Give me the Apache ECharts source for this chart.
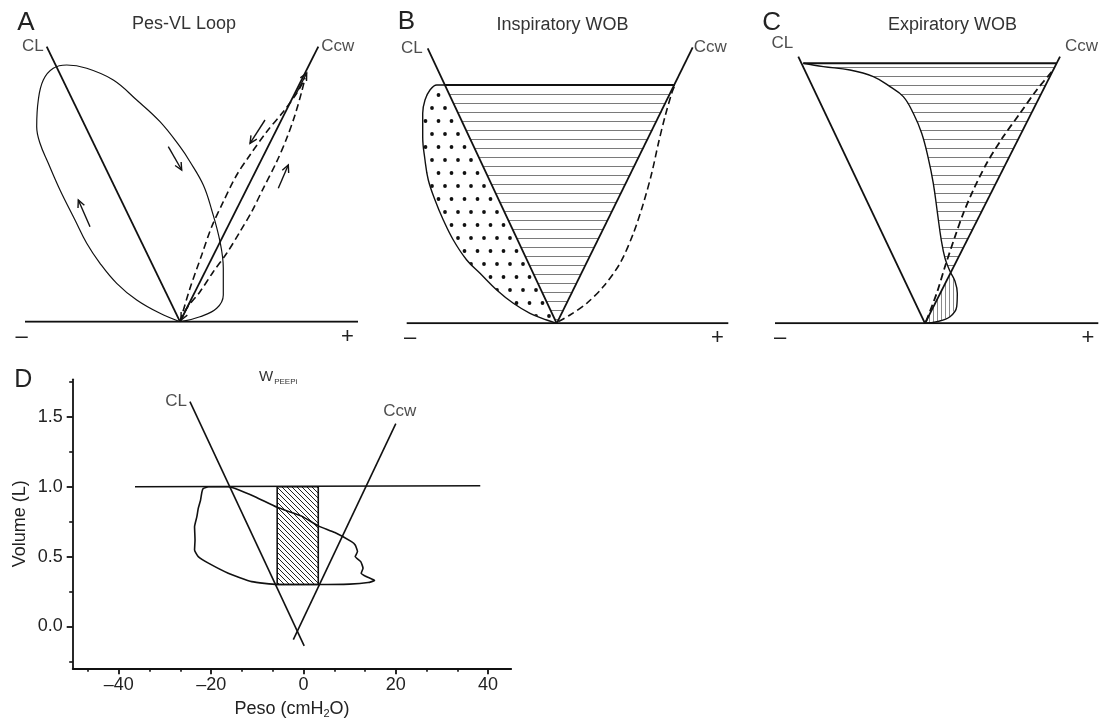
<!DOCTYPE html>
<html>
<head>
<meta charset="utf-8">
<script src="https://cdn.jsdelivr.net/npm/echarts@6/dist/echarts.min.js"></script>
<style>
  html, body { margin: 0; background: #fff; }
  #main { width: 1108px; height: 723px; }
</style>
</head>
<body>
<div id="main"></div>
<script>
// Panels A-C are schematic: x = pressure offset from the origin, y = volume above baseline (arbitrary units)

// --- A: Pes-VL loop
const aBase = [[-155, 0], [178, 0]];
const aCL = [[0, 0], [-133.3, 275]];
const aCcw = [[0, 0], [138.3, 275]];
const aLoop = [[0, 0], [20, 5], [36.7, 13.4], [43.3, 26.7], [43.3, 53.4], [40, 80], [31.7, 111.7],
  [23.3, 136.7], [10, 160], [0, 175], [-20, 200], [-43.3, 221.7], [-66.7, 241.7], [-93.3, 253.4],
  [-113.3, 256.7], [-126.7, 253.4], [-136.7, 241.7], [-141.7, 221.7], [-143.3, 195], [-140, 178.4],
  [-131.7, 158.4], [-120, 131.7], [-105, 101.7], [-93.3, 78.4], [-80, 58.4], [-63.3, 38.4],
  [-43.3, 21.7], [-20, 8.4], [0, 0]];
const aDashIn = [[0, 0], [10, 33.4], [21.7, 66.7], [31.7, 95], [43.3, 120], [56.7, 146.7], [70, 166.7],
  [86.7, 190], [103.3, 210], [116.7, 228.4], [125, 243.4]];
const aDashOut = [[0, 0], [6.7, 13.4], [20, 30], [33.3, 50], [46.7, 68.4], [60, 90], [71.7, 110],
  [83.3, 133.4], [96.7, 160], [106.7, 183.4], [115, 206.7], [121.7, 230], [125, 243.4]];
// arrows: [tailX, tailY, tipX, tipY]
const aArrows = [[85, 201.7, 70, 178.4], [98.3, 133.4, 108.3, 156.7], [-11.7, 175, 1.7, 151.7],
  [-90, 95, -101.7, 121.7], [116, 227.7, 126.7, 248.7], [10, 19.7, 1, 1.7]];
const aSigns = [-158.5, 167.5];

// --- B: inspiratory WOB
const bBase = [[-150, 0], [171.6, 0]];
const bCL = [[0, 0], [-129, 275]];
const bCcw = [[0, 0], [136, 276]];
const bTop = [[-111.7, 238.3], [118.3, 238.3]];
const bLoop = [[-111.7, 238.3], [-120, 238.3], [-126.7, 233.3], [-131.7, 223.3], [-134, 210],
  [-134, 186.6], [-131.7, 163.3], [-128.4, 143.3], [-121.7, 123.3], [-113.4, 103.3], [-103.4, 83.3],
  [-90, 63.3], [-76.7, 50], [-60, 33.3], [-43.4, 20], [-26.7, 10], [-10, 3.3], [0, 0]];
const bDash = [[1.7, 1.7], [13.3, 8.3], [30, 20], [46.7, 36.7], [63.3, 60], [76.7, 90], [86.7, 120],
  [95, 150], [101.7, 180], [108.3, 206.7], [115, 230], [118.3, 238.3]];
const bSigns = [-146.7, 160.8];

// --- C: expiratory WOB
const cBase = [[-150, 0], [173.3, 0]];
const cCL = [[0, 0], [-126.7, 266.7]];
const cCcw = [[0, 0], [135, 266.7]];
const cTop = [[-121.7, 260], [131.6, 260]];
const cCurve = [[-121.7, 260], [-101.7, 256.7], [-75, 253.3], [-51.7, 246.7], [-35, 236.7],
  [-21.7, 226.7], [-11.7, 210], [-3.3, 190], [3.3, 165], [8.3, 140], [12.5, 110], [16, 85], [20, 65],
  [25, 52], [30, 42], [32.3, 30], [31.7, 16.6], [25, 6.6], [11.7, 1.6], [0, 0]];
const cCross = [25.6, 50.6];
const cDash = [[1, 1.7], [11.7, 30], [20, 56.7], [30, 86.7], [38.3, 110], [48.3, 133.3], [61.7, 160],
  [78.3, 186.7], [95, 210], [111.7, 233.3], [128.3, 253.3]];
const cSigns = [-145, 163];

// --- D: W_PEEPi, Peso (cmH2O) vs Volume (L)
const dXTicks = [-40, -20, 0, 20, 40];
const dXMinor = [-46.67, -33.33, -26.67, -13.33, -6.67, 6.67, 13.33, 26.67, 33.33];
const dYTicks = [0, 0.5, 1.0, 1.5];
const dYMinor = [-0.25, 0.25, 0.75, 1.25, 1.75];
const dLevel = [[-36.5, 1.0], [38.3, 1.008]];
const dCL = [[-24.6, 1.61], [0.15, -0.14]];
const dCcw = [[20.0, 1.453], [-2.2, -0.095]];
const dBox = [[-5.7, 0.3], [3.2, 0.3], [3.2, 1.0], [-5.7, 1.0]];
const dLoop = [[-16.3, 1.0], [-14.8, 0.988], [-10.5, 0.929], [-5.7, 0.853], [-0.4, 0.79], [3.2, 0.72],
  [6.8, 0.672], [10.4, 0.607], [11.2, 0.583], [11.7, 0.536], [11.2, 0.5], [12.4, 0.464], [12.9, 0.417],
  [12.5, 0.381], [13.6, 0.357], [15.4, 0.329], [14.0, 0.314], [10, 0.303], [3.2, 0.3], [-5.7, 0.3],
  [-11.2, 0.321], [-16.3, 0.381], [-20.6, 0.453], [-22.8, 0.5], [-23.6, 0.548], [-23.5, 0.619],
  [-23.6, 0.714], [-23.1, 0.786], [-22.8, 0.845], [-22.3, 0.905], [-22.0, 0.964], [-21.7, 0.988],
  [-20.6, 1.0], [-16.3, 1.0]];

const FONT = '"Liberation Sans", Arial, sans-serif';
const INK = '#111';

// fill patterns (hatching / dots)
function tile(w, h, draw) {
  const c = document.createElement('canvas');
  c.width = w; c.height = h;
  const ctx = c.getContext('2d');
  draw(ctx);
  return { image: c, repeat: 'repeat' };
}
const hLines = tile(8, 9, ctx => {
  ctx.strokeStyle = '#7a7a7a'; ctx.lineWidth = 1;
  ctx.beginPath(); ctx.moveTo(0, 4.5); ctx.lineTo(8, 4.5); ctx.stroke();
});
const vLines = tile(4, 4, ctx => {
  ctx.strokeStyle = '#8a8a8a'; ctx.lineWidth = 1;
  ctx.beginPath(); ctx.moveTo(1.5, 0); ctx.lineTo(1.5, 4); ctx.stroke();
});
const dots = tile(13, 26, ctx => {
  ctx.fillStyle = '#111';
  ctx.beginPath(); ctx.arc(3, 4, 1.9, 0, Math.PI * 2); ctx.fill();
  ctx.beginPath(); ctx.arc(9.5, 17, 1.9, 0, Math.PI * 2); ctx.fill();
});
const diag = tile(5, 5, ctx => {
  ctx.strokeStyle = '#222'; ctx.lineWidth = 1;
  ctx.beginPath();
  ctx.moveTo(0, 0); ctx.lineTo(5, 5);
  ctx.moveTo(-1, 4); ctx.lineTo(1, 6);
  ctx.moveTo(4, -1); ctx.lineTo(6, 1);
  ctx.stroke();
});

function line(idx, data, opts) {
  opts = opts || {};
  return {
    type: 'line', xAxisIndex: idx, yAxisIndex: idx, data: data, silent: true,
    showSymbol: false, symbol: 'none', smooth: opts.smooth || false, z: 3,
    lineStyle: { color: INK, width: opts.width || 1.6, type: opts.dash ? [7, 4] : 'solid' }
  };
}

function area(idx, pts, fill, stroke) {
  return {
    type: 'custom', xAxisIndex: idx, yAxisIndex: idx, data: [0], silent: true, z: 1,
    renderItem: (params, api) => ({
      type: 'polygon',
      shape: { points: pts.map(p => api.coord(p)) },
      style: { fill: fill, stroke: stroke || 'none', lineWidth: 1.6 }
    })
  };
}

function arrows(idx, list) {
  return {
    type: 'custom', xAxisIndex: idx, yAxisIndex: idx, data: list, silent: true, z: 4,
    renderItem: (params, api) => {
      const a = api.coord([api.value(0), api.value(1)]);
      const b = api.coord([api.value(2), api.value(3)]);
      const ang = Math.atan2(b[1] - a[1], b[0] - a[0]);
      const L = 8, s = 0.45;
      const h1 = [b[0] - L * Math.cos(ang - s), b[1] - L * Math.sin(ang - s)];
      const h2 = [b[0] - L * Math.cos(ang + s), b[1] - L * Math.sin(ang + s)];
      const st = { stroke: INK, lineWidth: 1.4, fill: 'none' };
      return {
        type: 'group', children: [
          { type: 'polyline', shape: { points: [a, b] }, style: st },
          { type: 'polyline', shape: { points: [h1, b, h2] }, style: st }
        ]
      };
    }
  };
}

// text tag at a line end point
function tag(idx, pt, text, pos, dist, off) {
  return {
    type: 'scatter', xAxisIndex: idx, yAxisIndex: idx, silent: true, symbolSize: 0, z: 5,
    data: [{ value: pt, label: { show: true, formatter: text, position: pos, distance: dist, offset: off || [0, 0] } }],
    label: { color: '#222', fontSize: 17, fontFamily: FONT }
  };
}

function schematicX(idx, min, max, signs) {
  return {
    type: 'value', gridIndex: idx, min: min, max: max,
    axisLine: { show: false }, axisTick: { show: false }, splitLine: { show: false },
    axisLabel: {
      customValues: signs, formatter: v => (v < 0 ? '\u2013' : '+'),
      fontSize: 22, color: '#222', margin: 4, fontFamily: FONT
    }
  };
}
function schematicY(idx) {
  return { type: 'value', gridIndex: idx, min: 0, max: 300, show: false };
}

const option = {
  animation: false,
  backgroundColor: '#fff',
  textStyle: { fontFamily: FONT },
  grid: [
    { left: 20, top: 21.7, width: 338, height: 300, outerBoundsMode: 'none' },
    { left: 396.7, top: 23.3, width: 335, height: 300, outerBoundsMode: 'none' },
    { left: 765, top: 23.3, width: 335, height: 300, outerBoundsMode: 'none' },
    { left: 72.7, top: 379.3, width: 438.5, height: 289, outerBoundsMode: 'none' }
  ],
  xAxis: [
    schematicX(0, -160, 178, aSigns),
    schematicX(1, -160, 175, bSigns),
    schematicX(2, -160, 175, cSigns),
    {
      type: 'value', gridIndex: 3, min: -50, max: 45, position: 'bottom',
      axisLine: { onZero: false, lineStyle: { color: INK, width: 1.8 } },
      axisTick: { customValues: dXTicks, length: 6, lineStyle: { color: INK, width: 1.8 } },
      axisLabel: {
        customValues: dXTicks, formatter: v => String(v).replace('-', '\u2013'),
        fontSize: 18, color: '#222', margin: 8
      },
      splitLine: { show: false },
      name: 'Peso (cmH{sub|2}O)', nameLocation: 'middle', nameGap: 30,
      nameTextStyle: { fontSize: 18, color: '#222', rich: { sub: { fontSize: 11, verticalAlign: 'bottom', padding: [10, 0, 0, 0] } } }
    },
    {
      type: 'value', gridIndex: 3, min: -50, max: 45, position: 'bottom',
      axisLine: { show: false, onZero: false },
      axisTick: { customValues: dXMinor, length: 3.5, lineStyle: { color: INK, width: 1.6 } },
      axisLabel: { show: false }, splitLine: { show: false }
    }
  ],
  yAxis: [
    schematicY(0), schematicY(1), schematicY(2),
    {
      type: 'value', gridIndex: 3, min: -0.3, max: 1.77, position: 'left',
      axisLine: { show: true, onZero: false, lineStyle: { color: INK, width: 1.8 } },
      axisTick: { show: true, customValues: dYTicks, length: 6, lineStyle: { color: INK, width: 1.8 } },
      axisLabel: { customValues: dYTicks, formatter: v => v.toFixed(1), fontSize: 18, color: '#222', margin: 10 },
      splitLine: { show: false },
      name: 'Volume (L)', nameLocation: 'middle', nameGap: 44,
      nameTextStyle: { fontSize: 18, color: '#222' }
    },
    {
      type: 'value', gridIndex: 3, min: -0.3, max: 1.77, position: 'left',
      axisLine: { show: false, onZero: false },
      axisTick: { show: true, customValues: dYMinor, length: 3.5, lineStyle: { color: INK, width: 1.6 } },
      axisLabel: { show: false }, splitLine: { show: false }
    }
  ],
  graphic: [
    { type: 'text', x: 26, y: 22.5, style: { text: 'A', fontSize: 26, fontFamily: FONT, fill: '#222', align: 'center', verticalAlign: 'middle' } },
    { type: 'text', x: 184, y: 24, style: { text: 'Pes-VL Loop', fontSize: 18, fontFamily: FONT, fill: '#333', align: 'center', verticalAlign: 'middle' } },
    { type: 'text', x: 406.5, y: 22, style: { text: 'B', fontSize: 26, fontFamily: FONT, fill: '#222', align: 'center', verticalAlign: 'middle' } },
    { type: 'text', x: 562.5, y: 25, style: { text: 'Inspiratory WOB', fontSize: 18, fontFamily: FONT, fill: '#333', align: 'center', verticalAlign: 'middle' } },
    { type: 'text', x: 771.7, y: 22.5, style: { text: 'C', fontSize: 26, fontFamily: FONT, fill: '#222', align: 'center', verticalAlign: 'middle' } },
    { type: 'text', x: 952.5, y: 25, style: { text: 'Expiratory WOB', fontSize: 18, fontFamily: FONT, fill: '#333', align: 'center', verticalAlign: 'middle' } },
    { type: 'text', x: 23.3, y: 380, style: { text: 'D', fontSize: 25, fontFamily: FONT, fill: '#222', align: 'center', verticalAlign: 'middle' } },
    {
      type: 'text', x: 259, y: 377, style: {
        text: 'W{s|PEEPi}', fontSize: 15, fontFamily: FONT, fill: '#333', align: 'left', verticalAlign: 'middle',
        rich: { s: { fontSize: 8, fontFamily: FONT, fill: '#333', padding: [9, 0, 0, 1] } }
      }
    }
  ],
  series: [
    // A
    line(0, aBase, { width: 2 }),
    line(0, aCL, { width: 1.8 }),
    line(0, aCcw, { width: 1.8 }),
    line(0, aLoop, { width: 1.2, smooth: 0.4 }),
    line(0, aDashIn, { width: 1.6, dash: true, smooth: 0.3 }),
    line(0, aDashOut, { width: 1.6, dash: true, smooth: 0.3 }),
    arrows(0, aArrows),
    tag(0, aCL[1], 'CL', 'left', 3),
    tag(0, aCcw[1], 'Ccw', 'right', 3),
    // B
    area(1, [bCL[0], bTop[0], bTop[1]], hLines),
    area(1, bLoop, dots),
    line(1, bBase, { width: 2 }),
    line(1, bTop, { width: 2 }),
    line(1, bCL, { width: 1.8 }),
    line(1, bCcw, { width: 1.8 }),
    line(1, bLoop, { width: 1.4, smooth: 0.4 }),
    line(1, bDash, { width: 1.6, dash: true, smooth: 0.3 }),
    tag(1, bCL[1], 'CL', 'left', 5),
    tag(1, bCcw[1], 'Ccw', 'right', 1),
    // C
    area(2, cCurve.slice(0, 14).concat([cCross, cTop[1]]), hLines),
    area(2, [cCross].concat(cCurve.slice(14)), vLines),
    line(2, cBase, { width: 2 }),
    line(2, cTop, { width: 2 }),
    line(2, cCL, { width: 1.8 }),
    line(2, cCcw, { width: 1.8 }),
    line(2, cCurve, { width: 1.4, smooth: 0.4 }),
    line(2, cDash, { width: 1.8, dash: true, smooth: 0.3 }),
    tag(2, cCL[1], 'CL', 'left', 5, [0, -13]),
    tag(2, cCcw[1], 'Ccw', 'right', 5, [0, -10]),
    // D
    area(3, dBox, diag, INK),
    line(3, dLevel, { width: 1.6 }),
    line(3, dCL, { width: 1.6 }),
    line(3, dCcw, { width: 1.6 }),
    line(3, dLoop, { width: 1.6, smooth: 0.15 }),
    tag(3, dCL[0], 'CL', 'left', 3),
    tag(3, dCcw[0], 'Ccw', 'top', 4, [4, 0])
  ]
};

const chart = echarts.init(document.getElementById('main'));
chart.setOption(option);
</script>
</body>
</html>
